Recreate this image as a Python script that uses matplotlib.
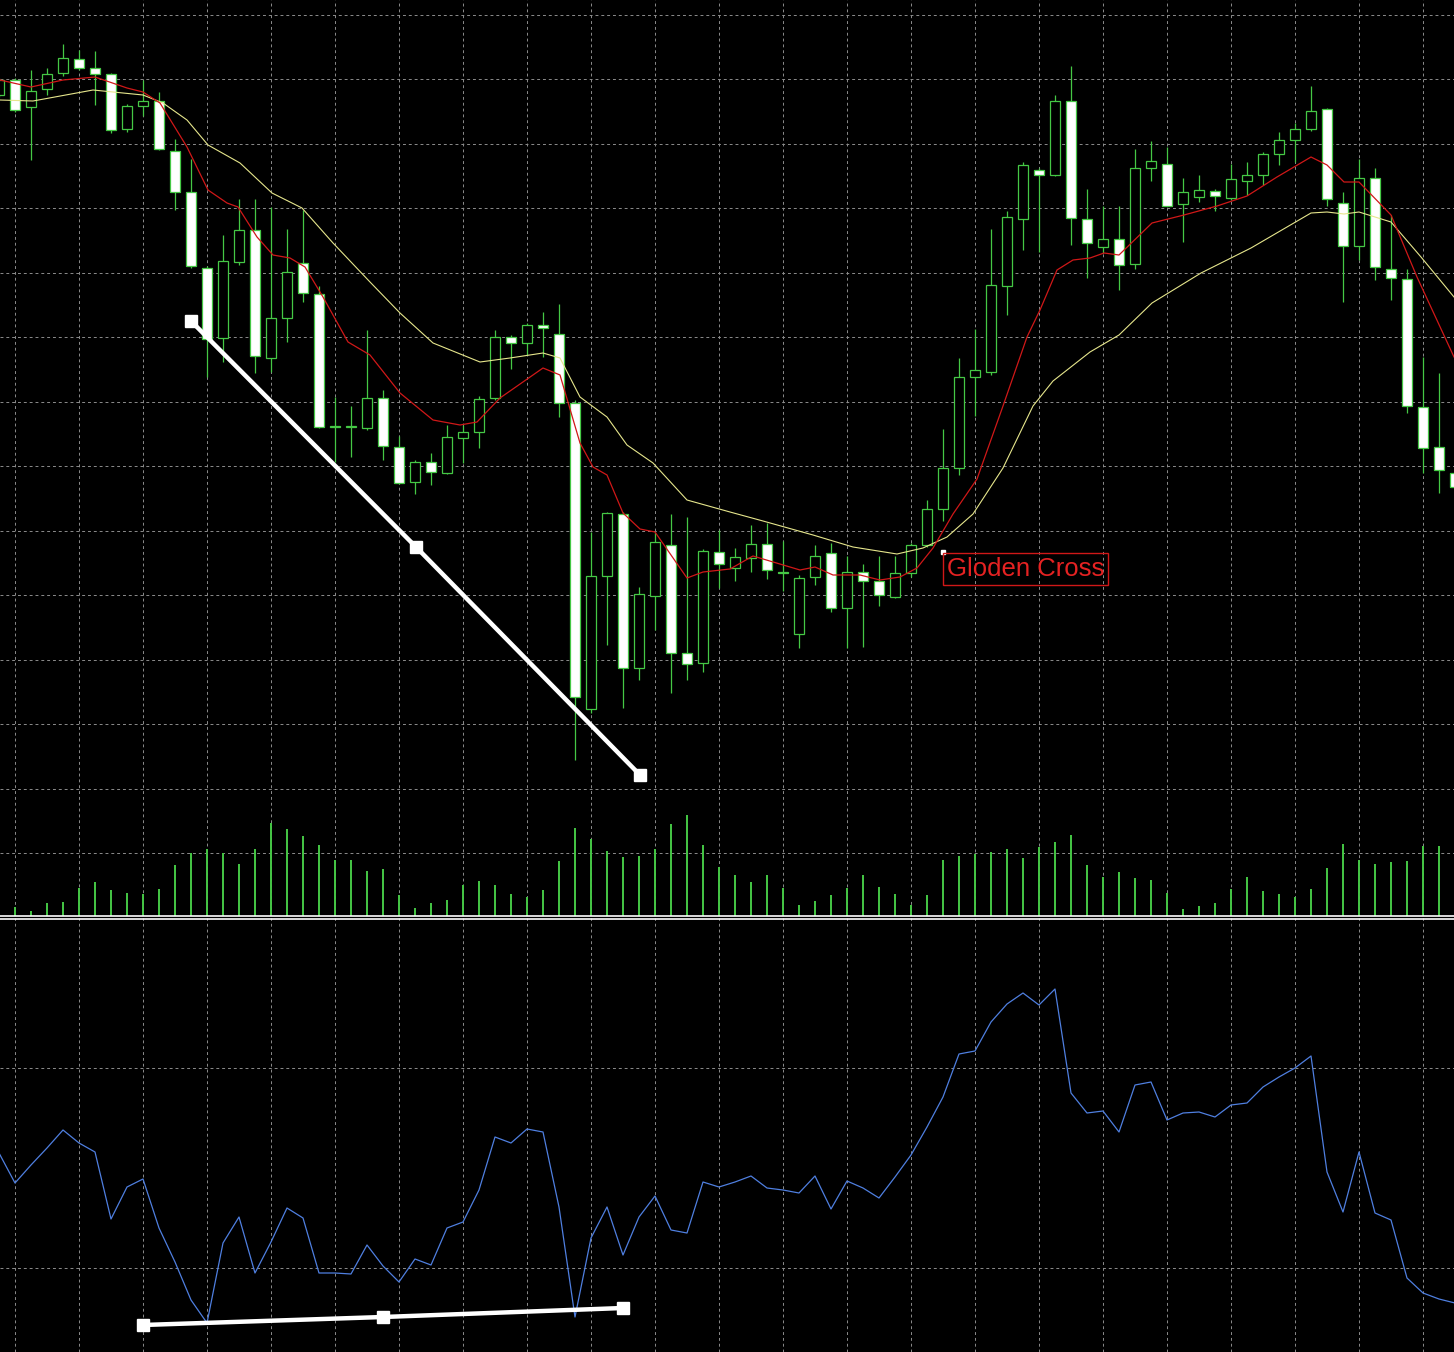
import matplotlib
matplotlib.use('Agg')

import numpy as np
import matplotlib.pyplot as plt

################# Data (screen units) #######################################
# candles: index -1 .. 90 ; price axis runs downward (screen y)
opens  = [95, 80,107, 89, 73, 59, 68, 74,129,106,101,151,192,268,338,262,230,358,318,263,294,426,427,428,398,
          447,482,462,473,438,432,398,337,343,325,334,403,709,576,514,668,596,545,653,663,552,568,558,544,572,
          634,577,553,608,572,581,597,573,545,509,468,377,372,286,219,170,175,101,219,247,239,264,168,164,204,
          197,191,198,181,175,154,140,129,109,203,246,178,269,279,407,447,473]
highs  = [78, 78, 70, 68, 44, 50, 51, 73,104, 80, 92,139,159,266,235,199,199,207,229,210,286,397,406,330,390,
          436,460,453,425,425,396,330,335,323,312,304,400,532,512,512,587,532,514,517,549,530,548,525,523,541,
          575,545,543,556,564,556,556,543,500,429,358,329,229,211,162,168, 95, 66,189,206,206,149,141,147,178,
          175,189,164,162,152,132,123, 86,108,192,159,168,215,269,357,373,470]
lows   = [97,112,160, 95, 76, 70,105,133,132,116,150,210,268,377,362,265,373,372,342,302,428,462,457,430,460,
          484,494,485,474,463,448,400,369,355,357,417,760,713,645,708,680,630,693,680,672,588,581,572,579,591,
          648,585,612,648,647,606,598,577,547,521,475,416,375,315,250,252,176,245,278,253,290,269,181,206,242,
          202,211,200,195,185,165,162,131,206,302,260,280,300,413,473,493,490]
closes = [80,110, 91, 74, 58, 68, 74,130,106,101,149,192,266,339,261,230,356,318,272,293,427,427,426,398,446,
          483,462,472,437,432,399,337,343,325,328,403,697,576,513,668,594,542,653,664,551,564,557,544,570,573,
          578,556,608,572,581,595,573,545,509,468,377,370,285,217,165,175,101,218,243,239,265,168,161,206,192,
          190,196,179,175,154,140,129,111,199,246,178,267,278,406,448,470,487]
bars = np.arange(-1, len(opens) - 1)

volumes = [9, 5, 13, 14, 28, 34, 26, 23, 22, 27, 51, 63, 67, 63, 52, 67, 93, 87, 80, 71, 56, 56, 45, 47, 21,
           8, 13, 16, 31, 35, 31, 22, 19, 26, 55, 88, 77, 65, 59, 60, 67, 92, 101, 71, 49, 41, 34, 41, 28, 11,
           15, 21, 28, 41, 29, 22, 11, 21, 56, 60, 62, 64, 67, 58, 69, 74, 81, 51, 39, 44, 38, 36, 23, 7, 10,
           13, 27, 39, 25, 22, 19, 27, 48, 72, 56, 52, 54, 55, 70, 70]

# fast (red) and slow (yellow) moving averages, sampled along screen x
red_x = [0, 31, 63, 95, 127, 143, 160, 187, 208, 227, 238, 257, 273, 290, 305, 323, 348, 370, 400, 433, 460,
         477, 500, 543, 560, 580, 593, 607, 623, 640, 655, 687, 703, 730, 753, 800, 815, 833, 860, 880, 900,
         917, 933, 953, 977, 1003, 1027, 1040, 1057, 1073, 1090, 1104, 1119, 1152, 1184, 1217, 1247, 1277,
         1311, 1327, 1344, 1359, 1391, 1417, 1454]
red_y = [80, 87, 80, 77, 88, 92, 103, 147, 190, 203, 207, 237, 255, 258, 267, 297, 342, 355, 393, 420, 425,
         422, 398, 368, 375, 443, 467, 475, 513, 529, 532, 578, 572, 569, 556, 570, 567, 575, 575, 580, 577,
         568, 548, 514, 479, 406, 337, 310, 270, 260, 258, 253, 255, 223, 215, 206, 196, 177, 157, 165, 182,
         182, 215, 277, 357]
yel_x = [0, 33, 93, 143, 163, 187, 208, 240, 272, 302, 333, 370, 400, 433, 480, 510, 543, 560, 580, 607, 627,
         653, 687, 730, 763, 813, 853, 897, 923, 947, 973, 1003, 1033, 1053, 1090, 1119, 1152, 1201, 1251,
         1311, 1327, 1344, 1359, 1391, 1421, 1454]
yel_y = [100, 101, 90, 95, 103, 120, 145, 163, 193, 208, 243, 282, 313, 343, 362, 358, 353, 358, 397, 417,
         445, 463, 500, 512, 521, 535, 547, 554, 548, 537, 514, 468, 406, 381, 352, 335, 303, 273, 248, 213,
         212, 214, 212, 222, 257, 297]

# oscillator sub window, index -1 .. 90
osc = [1153, 1183, 1165, 1148, 1130, 1143, 1152, 1219, 1187, 1179, 1228, 1262, 1300, 1323, 1243, 1217, 1273,
       1242, 1208, 1218, 1273, 1273, 1274, 1245, 1266, 1282, 1259, 1265, 1228, 1222, 1190, 1137, 1143, 1129,
       1132, 1207, 1317, 1238, 1207, 1255, 1217, 1196, 1230, 1233, 1182, 1187, 1182, 1176, 1188, 1190, 1193,
       1176, 1209, 1181, 1188, 1198, 1177, 1155, 1127, 1097, 1054, 1051, 1022, 1004, 993, 1005, 989, 1093,
       1113, 1111, 1132, 1085, 1082, 1120, 1113, 1112, 1117, 1105, 1103, 1087, 1077, 1068, 1056, 1172, 1212,
       1152, 1213, 1220, 1278, 1293, 1299, 1303]

trend_main_x = [191, 416, 640]
trend_main_y = [321, 547, 775]
trend_osc_x  = [143, 383, 623]
trend_osc_y  = [1325, 1317, 1308]
############################################################################

GREEN = '#45c845'
GRID  = '#8c8c8c'

def to_bar(px):
  return (np.asarray(px, dtype=float) - 15.0) / 16.0

W, H = 1454, 1352
fig = plt.figure(figsize=(W/100, H/100), dpi=100, facecolor='black')
ax  = fig.add_axes([0, 1 - 916/H, 1, 916/H])
axo = fig.add_axes([0, 0, 1, (H - 918)/H])

xlim = (to_bar(0), to_bar(W))
for a in (ax, axo):
  a.set_facecolor('black')
  a.set_xlim(*xlim)
  a.set_xticks(np.arange(0, 90, 4))
  a.tick_params(length=0, labelbottom=False, labelleft=False)
  for s in a.spines.values():
    s.set_visible(False)
  a.grid(True, color=GRID, lw=0.7, ls=(0, (3, 3)))
  a.set_axisbelow(True)

ax.set_ylim(916, 0)
ax.set_yticks(np.arange(14.5, 900, 64.5))
axo.set_ylim(H, 918)
axo.set_yticks([1068, 1268])

# volumes on a twin axis, zero at the bottom of the main window
axv = ax.twinx()
axv.set_ylim(0, 916)
axv.axis('off')
axv.vlines(np.arange(len(volumes)), 0, volumes, color=GREEN, lw=1.4)

# candles
o = np.array(opens); c = np.array(closes)
ax.vlines(bars, highs, lows, color=GREEN, lw=0.9, zorder=3)
bear = c > o
ax.bar(bars, np.maximum(np.abs(c - o), 0.5), bottom=np.minimum(o, c), width=0.62,
       color=np.where(bear, 'white', 'black'), edgecolor=GREEN, lw=0.9, zorder=4)

ax.plot(to_bar(yel_x), yel_y, color='#e6e68c', lw=0.8, zorder=5)
ax.plot(to_bar(red_x), red_y, color='#d01818', lw=0.9, zorder=5)

ax.plot(to_bar(trend_main_x), trend_main_y, color='white', lw=3.2, marker='s', ms=8, zorder=6)
axo.plot(np.arange(-1, len(osc) - 1), osc, color='#4f7fe0', lw=0.9)
axo.plot(to_bar(trend_osc_x), trend_osc_y, color='white', lw=3.2, marker='s', ms=8, zorder=6)

ax.plot(to_bar([943]), [552], 's', color='white', ms=2.5, zorder=7)
ax.text(to_bar(947), 569, 'Gloden Cross', color='#e52222', fontsize=18.5,
        family='Liberation Sans', va='center', ha='left', zorder=7,
        bbox=dict(facecolor='none', edgecolor='#d01818', lw=1, pad=2.5))

fig.add_artist(plt.Line2D([0, 1], [1 - 916/H]*2, color='white', lw=1.2))
fig.add_artist(plt.Line2D([0, 1], [1 - 918.5/H]*2, color='white', lw=1.2))

fig.savefig('out.png', dpi=100, facecolor='black')
